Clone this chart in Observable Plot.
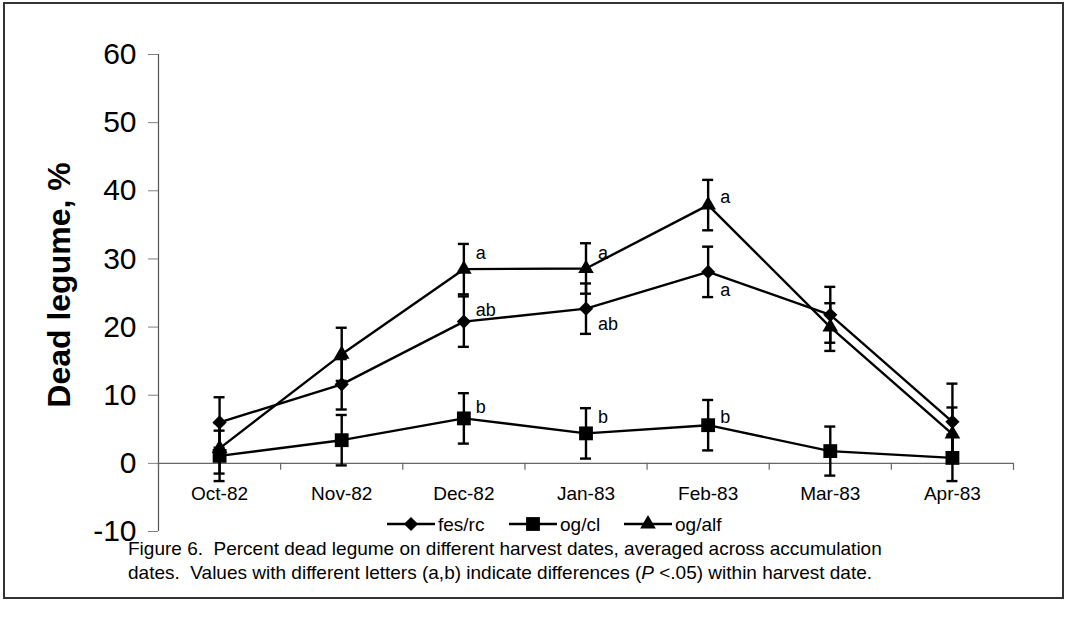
<!DOCTYPE html>
<html><head><meta charset="utf-8">
<script src="https://cdn.jsdelivr.net/npm/d3@7"></script>
<script src="https://cdn.jsdelivr.net/npm/@observablehq/plot@0.6"></script>
<style>
body{margin:0;background:#fff;font-family:"Liberation Sans",Arial,sans-serif;}
#wrap{position:relative;width:1068px;height:626px;overflow:hidden;}
#frame{position:absolute;left:3px;top:2px;width:1057px;height:593px;border:2px solid #333;box-sizing:content-box;}
#chart{position:absolute;left:0;top:0;}
#legend{position:absolute;left:0;top:0;}
</style>
</head><body>
<div id="wrap"><div id="frame"></div><div id="chart"></div><svg id="legend" width="1068" height="626"></svg></div>
<script>
const dates = ["Oct-82","Nov-82","Dec-82","Jan-83","Feb-83","Mar-83","Apr-83"];
const seriesNames = ["fes/rc","og/cl","og/alf"];
const fesrc = [6.0, 11.6, 20.8, 22.7, 28.1, 21.8, 6.1];
const fesrcErr = [3.7, 3.7, 3.7, 3.7, 3.7, 4.1, 5.6];
const ogcl = [1.1, 3.4, 6.6, 4.4, 5.6, 1.8, 0.8];
const ogclErr = [3.7, 3.7, 3.7, 3.7, 3.7, 3.6, 3.4];
const ogalf = [2.2, 16.0, 28.5, 28.6, 37.9, 20.0, 4.3];
const ogalfErr = [3.7, 3.9, 3.7, 3.7, 3.7, 3.5, 3.9];
const yTicks = [-10, 0, 10, 20, 30, 40, 50, 60];
// significance letters: date index, letter, value where the letter sits
const letterDates = [2, 3, 4, 2, 3, 4, 2, 3, 4];
const letterText = ["a","a","a","ab","ab","a","b","b","b"];
const letterY = [30.8, 30.8, 39.0, 22.5, 20.4, 25.4, 8.3, 6.8, 6.8];
const yLabel = "Dead legume, %";
const captionLines = [
  ["Figure 6.  Percent dead legume on different harvest dates, averaged across accumulation"],
  ["dates.  Values with different letters (a,b) indicate differences (", "P", " <.05) within harvest date."]
];

const W = 1068, H = 562;
const mL = 158, mR = 55, mT = 54, mB = 31;
const pxPerY = (H - mT - mB) / 70;
const pxPerX = (W - mL - mR) / 7;
const capHalf = 5.5 / pxPerX;
const tickLen = 7 / pxPerY;

const symbols = ["diamond2", "square", "triangle"];
const radii = [6.4, 7.8, 5.8];
const vals = [fesrc, ogcl, ogalf];
const errs = [fesrcErr, ogclErr, ogalfErr];

const seriesMarks = [];
vals.forEach((v, s) => {
  const rows = v.map((y, i) => ({i, y, lo: y - errs[s][i], hi: y + errs[s][i]}));
  seriesMarks.push(
    Plot.ruleX(rows, {x: "i", y1: "lo", y2: "hi", stroke: "#000", strokeWidth: 2.4}),
    Plot.ruleY(rows, {y: "hi", x1: d => d.i - capHalf, x2: d => d.i + capHalf, stroke: "#000", strokeWidth: 2.4}),
    Plot.ruleY(rows, {y: "lo", x1: d => d.i - capHalf, x2: d => d.i + capHalf, stroke: "#000", strokeWidth: 2.4}),
    Plot.line(rows, {x: "i", y: "y", stroke: "#000", strokeWidth: 2.4}),
    Plot.dot(rows, {x: "i", y: "y", symbol: () => symbols[s], r: radii[s], fill: "#000", stroke: "none"})
  );
});

const boundaries = d3.range(dates.length + 1).map(k => k - 0.5);
const letters = letterText.map((t, k) => ({i: letterDates[k], t, y: letterY[k]}));

const chart = Plot.plot({
  width: W, height: H,
  marginLeft: mL, marginRight: mR, marginTop: mT, marginBottom: mB,
  x: {type: "linear", domain: [-0.5, dates.length - 0.5], axis: null},
  y: {domain: [-10, 60]},
  symbol: {type: "identity"},
  style: {fontFamily: "Liberation Sans, Arial, sans-serif", background: "transparent", color: "#000", overflow: "visible"},
  marks: [
    Plot.axisY({ticks: yTicks, tickSize: 10, tickPadding: 12, fontSize: 30, tickFormat: d => String(d), label: null, stroke: "#808080", fill: "#000"}),
    Plot.ruleX([-0.5], {stroke: "#555", strokeWidth: 1.2}),
    Plot.ruleY([0], {x1: -0.5, x2: dates.length - 0.5, stroke: "#666", strokeWidth: 1.2}),
    Plot.ruleX(boundaries, {x: d => d, y1: 0, y2: -tickLen, stroke: "#666", strokeWidth: 1.2}),
    Plot.text(dates, {x: (d, i) => i, y: 0, dy: 31, text: d => d, fontSize: 19, fill: "#000"}),
    Plot.text([yLabel], {frameAnchor: "left", textAnchor: "middle", text: d => d, rotate: -90, dx: -99, dy: -8, fontSize: 32, fontWeight: "bold", fill: "#000"}),
    ...seriesMarks,
    Plot.text(letters, {x: "i", y: "y", text: "t", dx: 12, textAnchor: "start", fontSize: 18, fill: "#000"})
  ]
});
document.getElementById("chart").appendChild(chart);

// legend
const leg = d3.select("#legend");
const legY = 524;
const legItems = [
  {x: 387, sym: "diamond2", r: 6.4},
  {x: 509, sym: "square", r: 7.8},
  {x: 624, sym: "triangle", r: 5.8}
];
const symMap = {diamond2: d3.symbolDiamond2, square: d3.symbolSquare, triangle: d3.symbolTriangle};
seriesNames.forEach((name, k) => {
  const it = legItems[k];
  leg.append("line").attr("x1", it.x).attr("x2", it.x + 48).attr("y1", legY).attr("y2", legY).attr("stroke", "#000").attr("stroke-width", 2.4);
  leg.append("path").attr("d", d3.symbol(symMap[it.sym], Math.PI * it.r * it.r)()).attr("transform", `translate(${it.x + 24},${legY})`).attr("fill", "#000");
  leg.append("text").attr("x", it.x + 51).attr("y", legY).attr("dy", "0.35em").attr("font-size", 19).attr("font-family", "Liberation Sans, Arial, sans-serif").text(name);
});
// caption
const capX = 128, capY = [548, 572];
captionLines.forEach((parts, k) => {
  const t = leg.append("text").attr("x", capX).attr("y", capY[k]).attr("dy", "0.35em").attr("font-size", 19).attr("font-family", "Liberation Sans, Arial, sans-serif").attr("xml:space", "preserve").style("white-space", "pre");
  parts.forEach((p) => {
    t.append("tspan").attr("font-style", p === "P" ? "italic" : null).text(p);
  });
});
</script>
</body></html>
